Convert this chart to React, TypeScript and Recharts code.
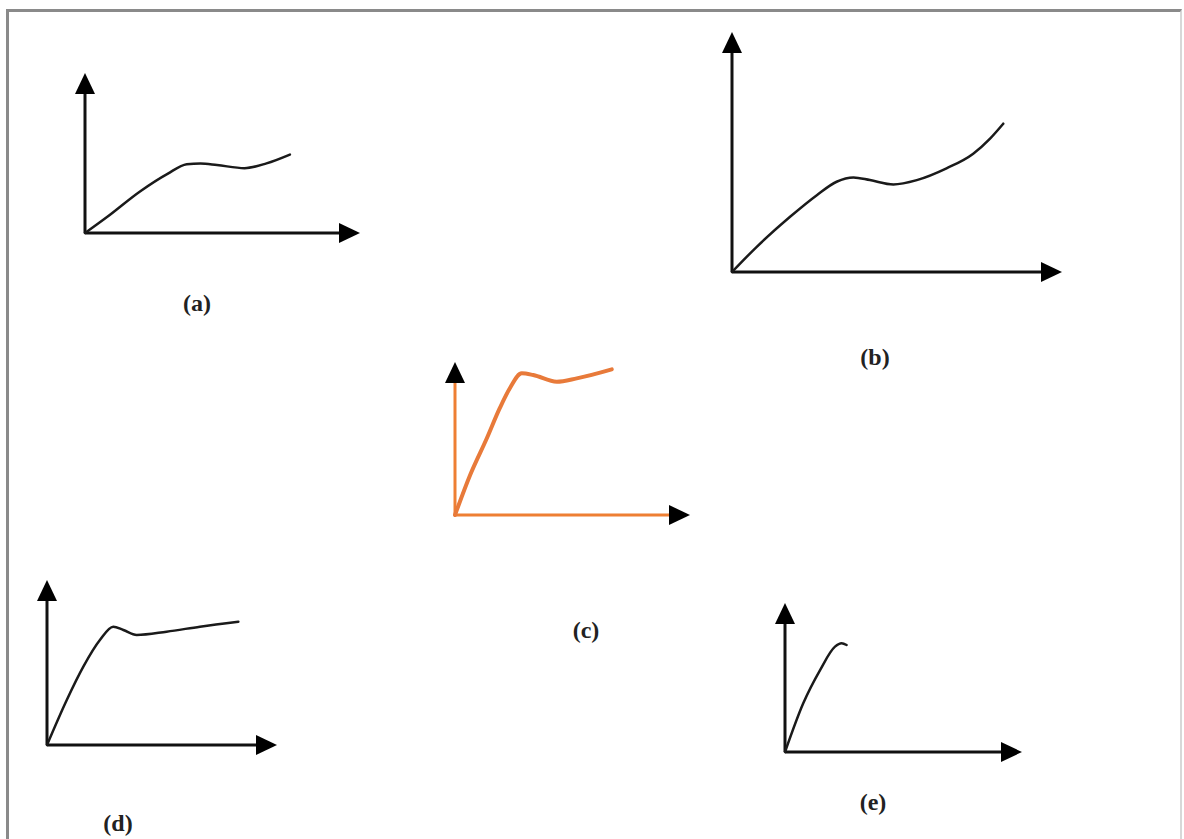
import { LineChart, Line, XAxis, YAxis, ReferenceLine } from "recharts";

// curve values, axis range 0..100 in both directions
const strainA = [0, 8, 20, 30, 37, 42, 48, 58, 66, 74.5];
const stressA = [0, 10, 26, 37, 43, 43.5, 42.5, 40.5, 43.5, 49];

const strainB = [0, 7.5, 17.6, 25.7, 31.7, 36.8, 41.8, 48.9, 56, 65, 73.1, 78.2, 82.2];
const stressB = [0, 10.5, 23, 32, 37.6, 39.4, 38.3, 36.5, 38.3, 43.2, 49.3, 55.6, 61.8];

const strainC = [0, 6.4, 13.5, 19.1, 23.4, 28.4, 33.3, 43.3, 51.8, 66.7];
const stressC = [0, 26, 50, 70, 83, 92.6, 91.5, 87.1, 89.3, 95.2];

const strainD = [0, 8.6, 15.8, 23, 28.8, 33.2, 39, 52, 66.5, 83.2];
const stressD = [0, 27.3, 47.5, 63.6, 71.7, 69.7, 66.7, 68.7, 71.7, 74.7];

const strainE = [0, 7.7, 14.8, 21.1, 23.9, 26];
const stressE = [0, 32.7, 55, 70.7, 73, 71.8];

const labels = ["(a)", "(b)", "(c)", "(d)", "(e)"];

const toRows = (xs: number[], ys: number[]) => xs.map((x, i) => ({ x, y: ys[i] }));

const PAD = 14;

const sketches = [
  { label: labels[0], data: toRows(strainA, stressA), ox: 85, oy: 233, tx: 360, ty: 73, axis: "#111", curve: "#1a1a1a", lx: 197, ly: 303 },
  { label: labels[1], data: toRows(strainB, stressB), ox: 732, oy: 272, tx: 1062, ty: 32, axis: "#111", curve: "#1a1a1a", lx: 875, ly: 357 },
  { label: labels[2], data: toRows(strainC, stressC), ox: 455, oy: 515, tx: 690, ty: 362, axis: "#ee7f33", curve: "#e87a3a", lx: 586, ly: 630 },
  { label: labels[3], data: toRows(strainD, stressD), ox: 47, oy: 745, tx: 277, ty: 580, axis: "#111", curve: "#1a1a1a", lx: 118, ly: 823 },
  { label: labels[4], data: toRows(strainE, stressE), ox: 785, oy: 752, tx: 1022, ty: 603, axis: "#111", curve: "#1a1a1a", lx: 873, ly: 802 },
];

// axis line with a filled arrowhead at its far end
const arrowAxis = (color: string) => (p: any) => {
  const { x1, y1, x2, y2 } = p;
  const dx = x2 - x1;
  const dy = y2 - y1;
  const len = Math.sqrt(dx * dx + dy * dy) || 1;
  const ux = dx / len;
  const uy = dy / len;
  const L = 21;
  const hw = 10;
  const bx = x2 - ux * L;
  const by = y2 - uy * L;
  const pts = `${x2},${y2} ${bx - uy * hw},${by + ux * hw} ${bx + uy * hw},${by - ux * hw}`;
  return (
    <g>
      <line x1={x1} y1={y1} x2={bx + ux * 2} y2={by + uy * 2} stroke={color} strokeWidth={3} />
      <polygon points={pts} fill="#000" />
    </g>
  );
};

const Sketch = ({ s }: { s: (typeof sketches)[number] }) => {
  const w = s.tx - s.ox + PAD * 2;
  const h = s.oy - s.ty + PAD * 2;
  return (
    <div style={{ position: "absolute", left: s.ox - PAD, top: s.ty - PAD }}>
      <LineChart width={w} height={h} data={s.data} margin={{ top: PAD, right: PAD, bottom: PAD, left: PAD }}>
        <XAxis type="number" dataKey="x" domain={[0, 100]} hide />
        <YAxis type="number" domain={[0, 100]} hide />
        <ReferenceLine
          segment={[{ x: 0, y: 0 }, { x: 100, y: 0 }]}
          ifOverflow="visible"
          shape={arrowAxis(s.axis)}
        />
        <ReferenceLine
          segment={[{ x: 0, y: 0 }, { x: 0, y: 100 }]}
          ifOverflow="visible"
          shape={arrowAxis(s.axis)}
        />
        <Line
          type="monotone"
          dataKey="y"
          stroke={s.curve}
          strokeWidth={s.axis === "#111" ? 2.5 : 4}
          strokeLinecap="round"
          dot={false}
          isAnimationActive={false}
        />
      </LineChart>
    </div>
  );
};

const App = () => {
  return (
    <div style={{ position: "absolute", left: 0, top: 0, width: 1184, height: 839, background: "#fff", overflow: "hidden" }}>
      <div
        style={{
          position: "absolute",
          left: 6,
          top: 9,
          width: 1171,
          height: 840,
          borderTop: "3px solid #8a8a8a",
          borderLeft: "3px solid #8a8a8a",
          borderRight: "2px solid #d8d8d8",
        }}
      />
      {sketches.map((s) => (
        <Sketch key={s.label} s={s} />
      ))}
      {sketches.map((s) => (
        <div
          key={s.label + "-t"}
          style={{
            position: "absolute",
            left: s.lx,
            top: s.ly,
            transform: "translate(-50%, -50%)",
            fontFamily: "'Liberation Serif', serif",
            fontWeight: "bold",
            fontSize: 24,
            color: "#222",
            whiteSpace: "nowrap",
          }}
        >
          {s.label}
        </div>
      ))}
    </div>
  );
};

export default App;
